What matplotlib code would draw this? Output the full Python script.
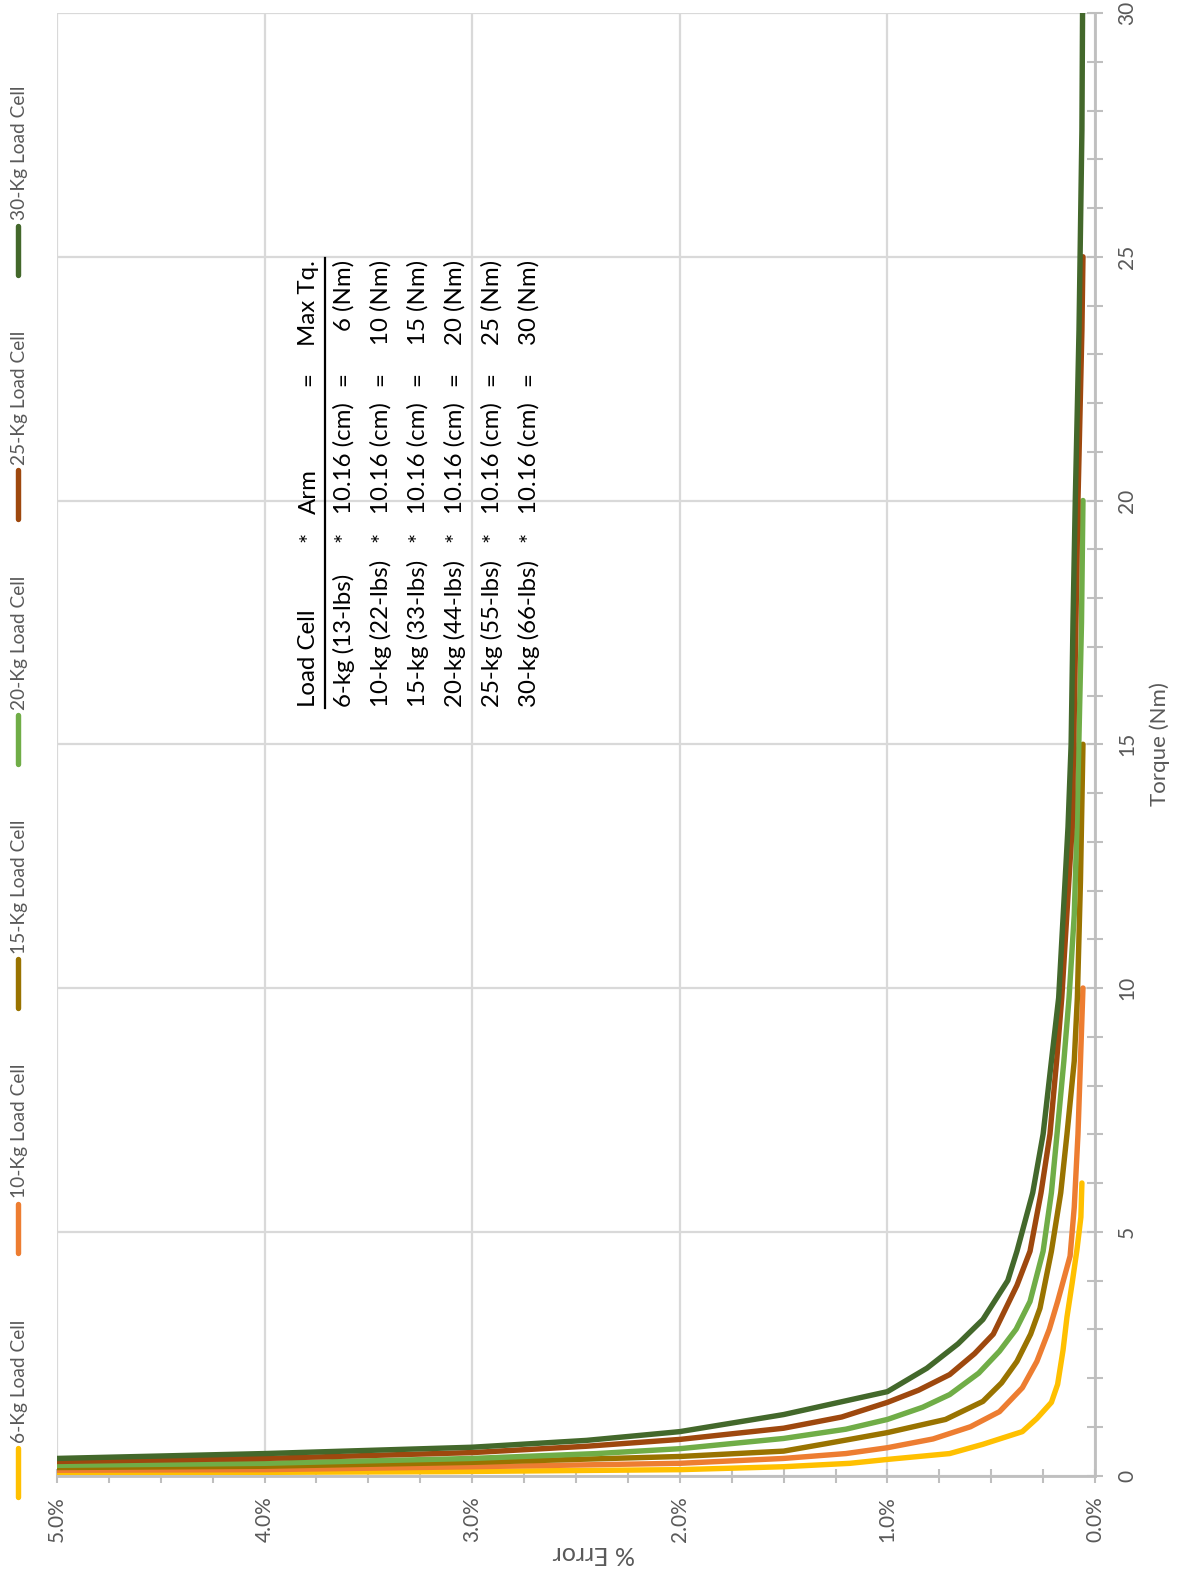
import matplotlib.pyplot as plt
from matplotlib.lines import Line2D
from matplotlib.ticker import MultipleLocator, FuncFormatter

plt.rcParams['font.family'] = ['Lato', 'DejaVu Sans']

# torque (Nm) and % error, one pair of lists per load cell
t6 = [0.05, 0.065, 0.08, 0.12, 0.18, 0.25, 0.33, 0.45, 0.64, 0.9, 1.17, 1.5, 1.87, 2.57, 3.25, 3.95, 4.63, 5.3, 6.0]
e6 = [5.6, 4.0, 3.1, 2.0, 1.5, 1.18, 1.0, 0.7, 0.54, 0.35, 0.28, 0.21, 0.18, 0.154, 0.135, 0.11, 0.087, 0.068, 0.063]

t10 = [0.1, 0.12, 0.18, 0.25, 0.35, 0.45, 0.57, 0.75, 1.0, 1.31, 1.8, 2.34, 3.0, 3.57, 4.5, 5.5, 7.0, 8.5, 10.0]
e10 = [5.6, 4.0, 3.0, 2.0, 1.5, 1.2, 1.0, 0.78, 0.6, 0.46, 0.35, 0.28, 0.22, 0.18, 0.12, 0.1, 0.082, 0.07, 0.058]

t15 = [0.15, 0.19, 0.27, 0.39, 0.5, 0.65, 0.88, 1.15, 1.52, 1.9, 2.34, 2.9, 3.43, 4.6, 5.8, 7.0, 8.5, 9.8, 12.2, 15.0]
e15 = [5.5, 4.0, 3.0, 2.0, 1.5, 1.3, 1.0, 0.72, 0.54, 0.45, 0.376, 0.31, 0.265, 0.21, 0.165, 0.135, 0.1, 0.085, 0.07, 0.058]

t20 = [0.2, 0.25, 0.35, 0.45, 0.55, 0.76, 0.95, 1.15, 1.4, 1.66, 2.1, 2.55, 3.0, 3.57, 4.6, 5.8, 7.0, 8.5, 9.8, 11.5, 13.3, 15.0, 17.5, 20.0]
e20 = [5.2, 4.0, 3.0, 2.4, 2.0, 1.5, 1.2, 1.0, 0.83, 0.7, 0.56, 0.46, 0.38, 0.313, 0.25, 0.21, 0.183, 0.15, 0.125, 0.1, 0.087, 0.078, 0.065, 0.058]

t25 = [0.27, 0.35, 0.47, 0.6, 0.74, 0.97, 1.2, 1.5, 1.75, 2.07, 2.5, 2.9, 3.9, 4.6, 5.8, 7.0, 8.5, 9.8, 13.3, 17.5, 20.0, 23.5, 25.0]
e25 = [5.3, 4.0, 3.0, 2.45, 2.0, 1.5, 1.22, 1.0, 0.85, 0.7, 0.58, 0.49, 0.376, 0.313, 0.26, 0.217, 0.185, 0.16, 0.11, 0.092, 0.082, 0.063, 0.058]

t30 = [0.3, 0.45, 0.58, 0.72, 0.9, 1.25, 1.72, 2.2, 2.7, 3.2, 4.0, 4.6, 5.8, 7.0, 8.5, 9.8, 13.3, 15.0, 17.5, 20.0, 22.5, 23.5, 27.6, 30.0]
e30 = [5.5, 4.0, 3.0, 2.45, 2.0, 1.5, 1.0, 0.81, 0.66, 0.54, 0.42, 0.376, 0.3, 0.25, 0.21, 0.175, 0.13, 0.115, 0.106, 0.095, 0.082, 0.077, 0.063, 0.06]

series_names = ['6-Kg Load Cell', '10-Kg Load Cell', '15-Kg Load Cell',
                '20-Kg Load Cell', '25-Kg Load Cell', '30-Kg Load Cell']
colores = ['#FFC000', '#ED7D31', '#997300', '#70AD47', '#9E480E', '#43682B']

# text box inside the chart
tabla_header = ['Load Cell', '*', 'Arm', '=', 'Max Tq.']
tabla_cells = ['6-kg (13-lbs)', '10-kg (22-lbs)', '15-kg (33-lbs)',
               '20-kg (44-lbs)', '25-kg (55-lbs)', '30-kg (66-lbs)']
tabla_arm = '10.16 (cm)'
tabla_tq = ['6 (Nm)', '10 (Nm)', '15 (Nm)', '20 (Nm)', '25 (Nm)', '30 (Nm)']

W, H = 1192, 1575
def fx(x):
    return x / W
def fy(y):
    return 1 - y / H

fig = plt.figure(figsize=(W / 100, H / 100), dpi=100)
# the chart is drawn turned a quarter turn: error along x, torque along y
ax = fig.add_axes([fx(57), fy(1475.5), fx(1095) - fx(57), fy(13) - fy(1475.5)])

datos = [(t6, e6), (t10, e10), (t15, e15), (t20, e20), (t25, e25), (t30, e30)]
for (t, e), c in zip(datos, colores):
    ax.plot(e, t, color=c, lw=3.9, solid_capstyle='round', solid_joinstyle='round')

ax.set_xlim(5, 0)
ax.set_ylim(0, 30)

gris_eje = '#bfbfbf'
ax.grid(True, which='major', color='#d9d9d9', lw=1.6)
ax.set_axisbelow(True)
for s in ['left', 'top']:
    ax.spines[s].set_visible(False)
for s in ['bottom', 'right']:
    ax.spines[s].set_color(gris_eje)
    ax.spines[s].set_linewidth(2)

ax.xaxis.set_major_locator(MultipleLocator(1))
ax.xaxis.set_minor_locator(MultipleLocator(0.25))
ax.xaxis.set_major_formatter(FuncFormatter(lambda v, p: '%.1f%%' % v))
ax.yaxis.tick_right()
ax.yaxis.set_major_locator(MultipleLocator(5))
ax.yaxis.set_minor_locator(MultipleLocator(1))
ax.yaxis.set_major_formatter(FuncFormatter(lambda v, p: '%d' % v))

ax.tick_params(axis='x', which='both', direction='inout', length=10, width=1.5,
               color=gris_eje, labelsize=15, labelcolor='#595959', labelrotation=90, pad=10)
ax.tick_params(axis='y', which='both', direction='inout', length=12, width=1.5,
               color=gris_eje, labelsize=15, labelcolor='#595959', labelrotation=90, pad=10)
plt.setp(ax.get_yticklabels(), va='center')

fig.text(fx(1160), fy(744), 'Torque (Nm)', rotation=90, ha='center', va='center',
         fontsize=16, color='#595959')
fig.text(fx(594), fy(1554), '% Error', rotation=180, ha='center', va='center',
         fontsize=18, color='#595959')

# legend, entries stacked from the bottom up
for i, (nombre, c) in enumerate(zip(series_names, colores)):
    yb = 1497 - i * 244.5
    fig.add_artist(Line2D([fx(18), fx(18)], [fy(yb), fy(yb - 49)], color=c, lw=3.9,
                          solid_capstyle='round', transform=fig.transFigure))
    fig.text(fx(20), fy(yb - 54), nombre, rotation=90, rotation_mode='anchor',
             ha='left', va='center', fontsize=13.8, color='#595959')

# table of load cells
filas_x = [309, 344, 381, 418, 455, 492, 529]
cols_y = [707, 537, 514, 379, 260]
fs = 17.3
for j, txt in enumerate(tabla_header):
    ha = ['left', 'center', 'left', 'center', 'right'][j]
    fig.text(fx(filas_x[0]), fy(cols_y[j]), txt, rotation=90, rotation_mode='anchor',
             ha=ha, va='center', fontsize=fs, color='black')
for i in range(6):
    xr = filas_x[i + 1]
    fila = [tabla_cells[i], '*', tabla_arm, '=', tabla_tq[i]]
    for j, txt in enumerate(fila):
        ha = ['left', 'center', 'left', 'center', 'right'][j]
        fig.text(fx(xr), fy(cols_y[j]), txt, rotation=90, rotation_mode='anchor',
                 ha=ha, va='center', fontsize=fs, color='black')
fig.add_artist(Line2D([fx(325), fx(325)], [fy(708), fy(258)], color='black', lw=1.6,
                      transform=fig.transFigure))

fig.savefig('out.png', dpi=100, facecolor='white')
